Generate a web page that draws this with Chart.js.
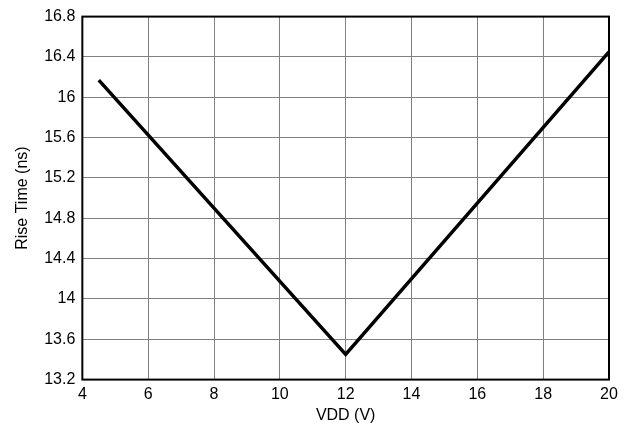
<!DOCTYPE html>
<html>
<head>
<meta charset="utf-8">
<script src="https://cdn.jsdelivr.net/npm/chart.js@4"></script>
<style>
  html, body { margin: 0; padding: 0; background: #fff; }
  #wrap { width: 631px; height: 431px; }
</style>
</head>
<body>
<div id="wrap"><canvas id="riseChart" width="631" height="431"></canvas></div>
<script>
// values
const vddValues = [4.5, 12, 20];
const riseTimes = [16.17, 13.45, 16.45];

const xMin = 4, xMax = 20, xStep = 2;
const yMin = 13.2, yMax = 16.8, yStep = 0.4;

const fontFamily = "'Liberation Sans', Arial, sans-serif";

// black frame round the plot area
const frameBox = {
  id: "frameBox",
  afterDatasetsDraw(chart) {
    const a = chart.chartArea;
    const ctx = chart.ctx;
    ctx.save();
    ctx.strokeStyle = "#000";
    ctx.lineWidth = 2;
    ctx.strokeRect(a.left, a.top, a.right - a.left, a.bottom - a.top);
    ctx.restore();
  }
};

document.addEventListener("DOMContentLoaded", function () {
  const ctx = document.getElementById("riseChart").getContext("2d");
  const points = vddValues.map((v, i) => ({ x: v, y: riseTimes[i] }));

  new Chart(ctx, {
    type: "line",
    data: {
      datasets: [
        {
          data: points,
          borderColor: "#000",
          borderWidth: 3.5,
          pointRadius: 0,
          tension: 0,
          fill: false
        }
      ]
    },
    options: {
      responsive: false,
      animation: false,
      layout: { padding: { left: 13, right: 22, top: 8, bottom: 6 } },
      plugins: {
        legend: { display: false },
        tooltip: { enabled: false }
      },
      scales: {
        x: {
          type: "linear",
          min: xMin,
          max: xMax,
          ticks: {
            stepSize: xStep,
            color: "#000",
            padding: 5,
            maxRotation: 0,
            font: { family: fontFamily, size: 16 }
          },
          grid: { color: "#808080", lineWidth: 1, drawTicks: false },
          border: { display: false },
          title: {
            display: true,
            text: "VDD (V)",
            color: "#000",
            padding: { top: -3, bottom: 0 },
            font: { family: fontFamily, size: 16 }
          }
        },
        y: {
          min: yMin,
          max: yMax,
          ticks: {
            stepSize: yStep,
            color: "#000",
            padding: 7,
            font: { family: fontFamily, size: 16 },
            callback: (v) => String(Number(v.toFixed(1)))
          },
          grid: { color: "#808080", lineWidth: 1, drawTicks: false },
          border: { display: false },
          title: {
            display: true,
            text: "Rise Time (ns)",
            color: "#000",
            padding: { top: 0, bottom: 5 },
            font: { family: fontFamily, size: 16 }
          }
        }
      }
    },
    plugins: [frameBox]
  });
});
</script>
</body>
</html>
